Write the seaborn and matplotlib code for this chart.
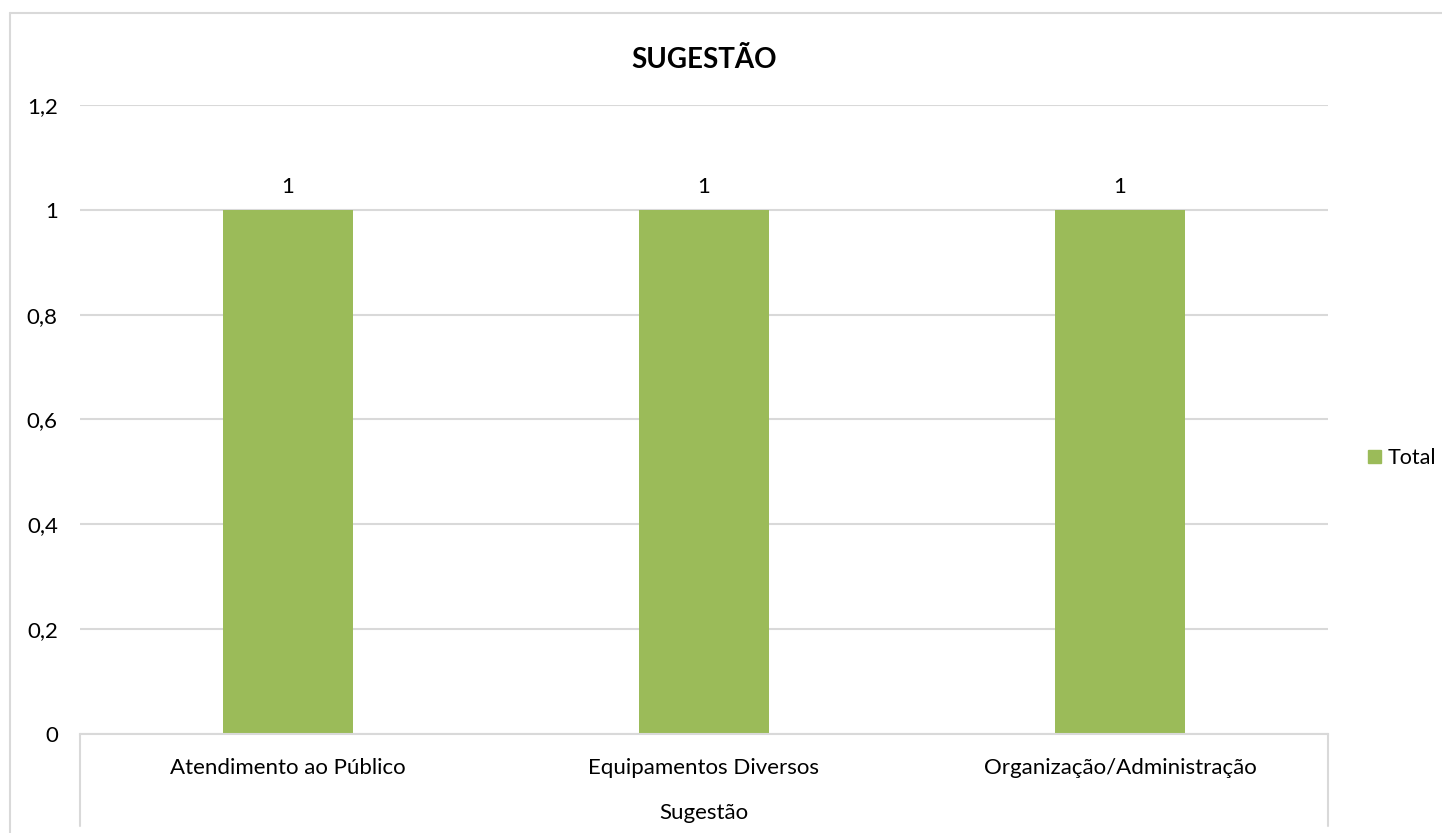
import pandas as pd
import matplotlib
matplotlib.use('Agg')
import matplotlib.pyplot as plt
import seaborn as sns
from matplotlib.patches import Patch
from matplotlib.lines import Line2D
from matplotlib.ticker import FuncFormatter

# Data
categories = ['Atendimento ao Público', 'Equipamentos Diversos', 'Organização/Administração']
totals = [1, 1, 1]
y_ticks = [0, 0.2, 0.4, 0.6, 0.8, 1.0, 1.2]

df = pd.DataFrame({'Sugestão': categories, 'Total': totals})

sns.set_style("white")
plt.rcParams['font.family'] = ['Lato', 'DejaVu Sans']
plt.rcParams['text.color'] = 'black'

W, H = 1442, 833
fig = plt.figure(figsize=(W / 100, H / 100), dpi=100)
ax = fig.add_axes([80 / W, 1 - 734 / H, (1328 - 80) / W, (734 - 105) / H])

green = '#9BBB59'
grid_c = '#D9D9D9'

sns.barplot(data=df, x='Sugestão', y='Total', color=green, width=0.3125,
            saturation=1, linewidth=0, ax=ax)

ax.set_ylim(0, 1.2)
ax.set_yticks(y_ticks)
ax.yaxis.set_major_formatter(FuncFormatter(lambda v, p: f'{v:g}'.replace('.', ',')))
ax.yaxis.grid(True, color=grid_c, linewidth=1.5)
ax.set_axisbelow(True)
ax.tick_params(axis='y', length=0, pad=16, labelsize=16, colors='black')
ax.tick_params(axis='x', length=0, pad=17, labelsize=16, colors='black')

for s in ['top', 'left', 'right']:
    ax.spines[s].set_visible(False)
ax.spines['bottom'].set_color(grid_c)
ax.spines['bottom'].set_linewidth(1.5)

# category box side lines below the axis
drop = (826 - 734) / (734 - 105)
for xx in [0, 1]:
    ax.add_line(Line2D([xx, xx], [0, -drop], transform=ax.transAxes,
                       color=grid_c, linewidth=1.5, clip_on=False))

ax.set_xlabel('Sugestão', fontsize=16, labelpad=18, color='black')
ax.set_ylabel('')

# value labels
for c in ax.containers:
    ax.bar_label(c, labels=[f'{v:g}' for v in totals], padding=9, fontsize=16,
                 color='black')

ax.set_title('SUGESTÃO', fontsize=20, fontweight='bold', pad=27, color='black')

# legend
ax.legend(handles=[Patch(color=green, label='Total')], loc='center left',
          bbox_to_anchor=(1368 / W, 1 - 458 / H), bbox_transform=fig.transFigure,
          frameon=False, fontsize=15.5, handlelength=0.6, handleheight=0.6,
          handletextpad=0.3, borderpad=0, borderaxespad=0)

# outer chart border (top and left visible)
fig.add_artist(Line2D([10 / W, 1], [1 - 13 / H, 1 - 13 / H], transform=fig.transFigure,
                      color=grid_c, linewidth=1.5))
fig.add_artist(Line2D([10 / W, 10 / W], [0, 1 - 13 / H], transform=fig.transFigure,
                      color=grid_c, linewidth=1.5))

fig.savefig('out.png', dpi=100)
